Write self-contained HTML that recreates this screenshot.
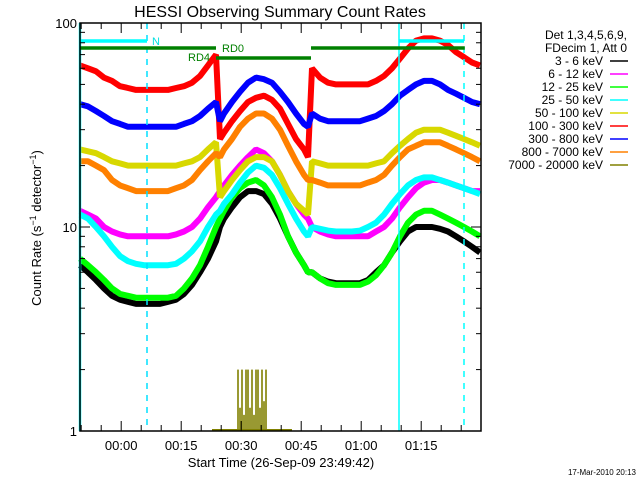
<!DOCTYPE html>
<html><head><meta charset="utf-8"><style>
body{margin:0;background:#fff;width:640px;height:480px;overflow:hidden}
svg{display:block;font-family:"Liberation Sans",sans-serif}
</style></head><body>
<svg id="chart" width="640" height="480">
<text x="280" y="17" font-size="16" text-anchor="middle">HESSI Observing Summary Count Rates</text>
<text x="0" y="0" font-size="13" text-anchor="middle" transform="translate(41,228) rotate(-90)">Count Rate (s<tspan dy="-5" font-size="9">−1</tspan><tspan dy="5"> detector</tspan><tspan dy="-5" font-size="9">−1</tspan><tspan dy="5">)</tspan></text>
<text x="281" y="467" font-size="13" text-anchor="middle">Start Time (26-Sep-09 23:49:42)</text>
<text x="636" y="475" font-size="8" text-anchor="end">17-Mar-2010 20:13</text>
<g id="plot"></g>
<g id="legend"></g>
</svg>
<script>
const times=[0,2,4,6,8,10,12,14,16,18,20,22,24,26,28,30,32,34,35,36,38,40,42,44,46,48,50,52,54,56,57,58,60,62,64,66,68,70,72,74,76,78,80,82,84,86,88,90,92,94,96,98,100];
const s3_6=[6.5,6,5.5,5,4.6,4.4,4.3,4.2,4.2,4.2,4.2,4.3,4.4,4.7,5.2,6,7,8.5,10,11,12.5,14,15,15,14.5,13,11,9,7.5,6.5,6,6,5.6,5.4,5.3,5.3,5.3,5.3,5.5,6,6.5,7.5,8.5,9.5,10,10,10,9.8,9.5,9,8.5,8,7.5];
const s6_12=[12,11.5,11,10,9.5,9.2,9,9,9,9,9,9,9.2,9.5,10,11,12.5,14,15,16,18,20,22,24,23,21,18,15,13,11.5,11,10,9.5,9.2,9,9,9,9,9,9.5,10,11,12.5,14,15.5,16.5,17,17,16.5,16,15.5,15,15];
const s12_25=[7,6.5,6,5.5,5,4.7,4.6,4.5,4.5,4.5,4.5,4.5,4.6,5,5.6,6.5,8,10,11,12,14,15.5,16.5,17,16,14,11.5,9,7.5,6.5,6,6,5.6,5.3,5.2,5.2,5.2,5.2,5.4,5.8,6.5,7.5,9,10.5,11.5,12,12,11.5,11,10.5,10,9.5,9];
const s25_50=[11.5,11,10,9,8,7.2,6.8,6.6,6.5,6.5,6.5,6.5,6.6,7,7.6,8.5,10,11.5,12,13,14.5,16.5,18.5,20,19.5,18,15.5,13,11,9.5,9,10,9.8,9.6,9.5,9.5,9.5,9.6,10,10.5,11.5,13,14.5,16,17,17.5,17.5,17,16.5,16,15.5,15,14.5];
const s50_100=[24,23.5,23,22,21,20.5,20,20,20,20,20,20,20,20.5,21,22,24,26,14,15,17,19,21,22,22,21,18,15,13,12,11.5,21,20.5,20,20,20,20,20,20,20.5,21,23,25,27,29,30,30,30,29,28,27,26,25];
const s100_300=[62,60,58,54,52,49,48,47,47,47,47,47,48,49,51,55,62,70,27,29,33,37,41,43,44,42,38,32,27,24,22,60,54,51,50,50,50,50,50,52,55,60,67,75,82,84,84,82,78,72,68,64,62];
const s300_800=[40,39,37,35,33,32,31,31,31,31,31,31,31,32,33,35,38,41,33,36,41,46,51,54,53,51,46,41,36,32,31,36,34,33,33,33,33,33,34,35,37,40,44,47,50,52,52,50,47,45,43,41,40];
const s800_7000=[21,21,20,19,17,16,15.5,15,15,15,15,15,15.5,16,17,19,21,23,22,24,27,31,34,36,36,34,30,25,21,18,17,17,16.5,16,16,16,16,16,16.5,17,18,20,22,24,25,26,26,26,25,24,23,22,21];
const oliveTimes=[39.5,40,40.5,41,41.5,42,42.5,43,43.5,44,44.5,45,45.5,46,46.5];
const oliveValues=[2,1.3,2,1.2,2,2,1.3,2,1.2,2,2,1.3,2,1.4,2];
const seriesLabels=["3 - 6 keV","6 - 12 keV","12 - 25 keV","25 - 50 keV","50 - 100 keV","100 - 300 keV","300 - 800 keV","800 - 7000 keV","7000 - 20000 keV"];
const seriesColors=["#000","#ff00ff","#00ff00","#00ffff","#d8d800","#ff0000","#0000ff","#ff8000","#808000"];
const xTickLabels=["00:00","00:15","00:30","00:45","01:00","01:15"];
const xTickMinutes=[10.3,25.3,40.3,55.3,70.3,85.3];
const yTickLabels=["1","10","100"];

const L=80,R=481,T=23,B=431,tMax=100.25;
const X=t=>L+(R-L)*t/tMax;
const Y=v=>B-(B-T)*Math.log10(v)/2;
const NS="http://www.w3.org/2000/svg";
const plot=document.getElementById('plot');
function mk(tag,attrs,parent){const e=document.createElementNS(NS,tag);for(const k in attrs)e.setAttribute(k,attrs[k]);(parent||plot).appendChild(e);return e;}

let e=mk('line',{x1:X(33),x2:X(53),y1:B-1,y2:B-1,stroke:'#808000','stroke-width':2});



const order=[s3_6,s6_12,s12_25,s25_50,s50_100,s100_300,s300_800,s800_7000];
const names=['series-3-6','series-6-12','series-12-25','series-25-50','series-50-100','series-100-300','series-300-800','series-800-7000'];
order.forEach((arr,i)=>{
  let d='';
  arr.forEach((v,j)=>{d+=(j?'L':'M')+X(times[j]).toFixed(1)+','+Y(v).toFixed(1);});
  const p=mk('path',{d:d,fill:'none',stroke:seriesColors[i],'stroke-width':6,'stroke-linejoin':'bevel'});
  
  
});
oliveTimes.forEach((t,j)=>{
  const r=mk('rect',{x:X(t)-0.8,y:Y(oliveValues[j]),width:1.6,height:B-Y(oliveValues[j]),fill:'#808000'});
  
  
});
[[0,'#00ffff',''],[79.75,'#00ffff',''],[16.75,'#00e0ff','6,6'],[96,'#00ffff','6,6']].forEach(m=>{
  const l=mk('line',{x1:X(m[0]),x2:X(m[0]),y1:T,y2:B,stroke:m[1],'stroke-width':m[0]==0?2.5:1.5,'stroke-dasharray':m[2]});
  
  
});
[[0,16.75,41,'#00ffff'],[79.75,96,41,'#00ffff'],[0,34,48,'#008000'],[34,57.75,58,'#008000'],[57.75,96.2,48,'#008000']].forEach(b=>{
  const l=mk('line',{x1:X(b[0]),x2:X(b[1]),y1:b[2],y2:b[2],stroke:b[3],'stroke-width':3.5});
  
  
});
[['N',152,45,'#00e0e0'],['RD4',188,61,'#008000'],['RD0',222,52,'#008000']].forEach(a=>{
  const t=mk('text',{x:a[1],y:a[2],fill:a[3],'font-size':11});t.textContent=a[0];
  
  
});
e=mk('rect',{x:L,y:T,width:R-L,height:B-T,fill:'none',stroke:'#000','stroke-width':1.5});


for(let m=0.3;m<=100;m+=5){
  const major=xTickMinutes.some(v=>Math.abs(v-m)<0.01);
  const len=major?10:6;
  [[B,B-len],[T,T+len]].forEach(p=>{const l=mk('line',{x1:X(m),x2:X(m),y1:p[0],y2:p[1],stroke:'#000'});
  
  });
}
xTickLabels.forEach((s,i)=>{
  const t=mk('text',{x:X(xTickMinutes[i]),y:450,'font-size':13,'text-anchor':'middle'});t.textContent=s;
  
  
});
for(let dec=0;dec<2;dec++)for(let k=1;k<=10;k++){
  const v=k*Math.pow(10,dec);const major=(k==1||k==10);const len=major?10:5;
  [[L,L+len],[R,R-len]].forEach(p=>{const l=mk('line',{x1:p[0],x2:p[1],y1:Y(v),y2:Y(v),stroke:'#000'});
  
  });
}
yTickLabels.forEach((s,i)=>{
  const t=mk('text',{x:77,y:Y(Math.pow(10,i))+5,'font-size':13,'text-anchor':'end'});t.textContent=s;
  
  
});
const lg=document.getElementById('legend');
[['Det 1,3,4,5,6,9,',39],['FDecim 1, Att 0',52]].forEach(h=>{
  const t=mk('text',{x:627,y:h[1],'font-size':12,'text-anchor':'end'},lg);t.textContent=h[0];
  
  
});
seriesLabels.forEach((s,i)=>{
  const y=61+i*13;
  const t=mk('text',{x:603,y:y+4,'font-size':12,'text-anchor':'end'},lg);t.textContent=s;
  
  
  const l=mk('line',{x1:610,x2:628,y1:y,y2:y,stroke:seriesColors[i],'stroke-width':1.5},lg);
  
  
});
</script>
</body></html>
